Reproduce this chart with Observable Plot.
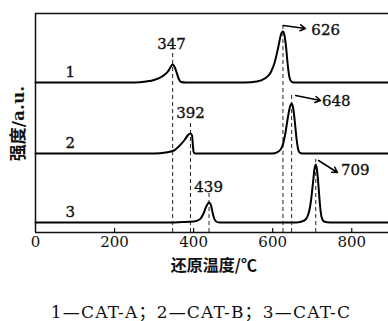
<!DOCTYPE html>
<html><head><meta charset="utf-8">
<script src="https://cdn.jsdelivr.net/npm/d3@7"></script>
<script src="https://cdn.jsdelivr.net/npm/@observablehq/plot@0.6"></script>
<style>
body{margin:0;background:#fff;}
#cap{font-family:"DejaVu Serif","Noto Sans CJK SC",serif;font-size:17px;letter-spacing:1.2px;text-align:center;width:388px;padding-left:14px;box-sizing:border-box;height:20px;line-height:20px;margin-top:12px;color:#111;white-space:nowrap;}
</style>
</head><body>
<div id="chart"></div>
<div id="cap">1—CAT-A；2—CAT-B；3—CAT-C</div>
<script>
// Curve samples: temperature (°C) and intensity (a.u.)
const temp1 = [0,250,280,300,320,335,342,347,352,357,362,368,380,530,560,580,595,605,615,621,626,630,634,638,642,646,652,665,900];
const int1  = [0,0,1,2.5,6,11,15.5,18,15.5,10,4,0.5,0,0,1,4,10,20,37,48,51,47,35,18,6,1.5,0,0,0];
const temp2 = [0,300,330,350,365,378,386,392,396,398,400,403,600,615,625,632,638,644,648,652,656,660,664,668,675,900];
const int2  = [0,0,1,3,8,14,18.5,20,18,9,1.5,0,0,2,8,20,35,47,50,45,32,16,5,1,0,0];
const temp3 = [0,340,370,400,415,425,432,439,444,448,452,457,465,660,680,690,697,702,706,709,712,716,720,724,730,745,900];
const int3  = [0,0,0.4,1,3,9,16,20,17,10,4,1,0,0,2,8,22,40,54,58,53,36,16,5,1,0,0];
const curveNames = ["1","2","3"];
const offsets = [150, 79, 10];
const peakTemps = [347, 626, 392, 648, 439, 709];
const peakLabels = ["347","626","392","648","439","709"];
const peakCurve = [0, 0, 1, 1, 2, 2];
const xTicks = [0, 200, 400, 600, 800];
const xLabel = "还原温度/℃";
const yLabel = "强度/a.u.";

const series = [[temp1,int1],[temp2,int2],[temp3,int3]];
const rows = [];
series.forEach(([t, v], k) => t.forEach((T, i) => rows.push({T, y: v[i] + offsets[k], c: curveNames[k]})));

function valAt(k, T){ const [t,v]=series[k]; const i=t.indexOf(T); return v[i]+offsets[k]; }
const peaks = peakTemps.map((T,i)=>({T, label: peakLabels[i], top: valAt(peakCurve[i], T)}));
const left = peaks.filter((d,i)=>i%2===0);   // labelled above the peak
const right = peaks.filter((d,i)=>i%2===1);  // labelled with an arrow

const serif = "DejaVu Serif, Noto Sans CJK SC, serif";
const txt = {fontFamily: serif, fontSize: 15, fill: "#111", stroke: "#111", strokeWidth: 0.35};

const plot = Plot.plot({
  width: 388, height: 290,
  marginLeft: 35, marginRight: 0, marginTop: 13, marginBottom: 58,
  x: {domain: [0, 893]},
  y: {domain: [0, 219], axis: null},
  style: {fontFamily: serif, color: "#111", background: "#fff"},
  marks: [
    Plot.ruleX(left.map((d,i)=>({T:d.T, y2:d.top+[11,11,9][i]})), {x:"T", y1:0, y2:"y2", stroke:"#222", strokeWidth:1, strokeDasharray:"4,3"}),
    Plot.ruleX(right.map((d,i)=>({T:d.T, y2:d.top+[8,10,5][i]})), {x:"T", y1:0, y2:"y2", stroke:"#222", strokeWidth:1, strokeDasharray:"4,3"}),
    Plot.line(rows, {x:"T", y:"y", z:"c", curve:"monotone-x", stroke:"#000", strokeWidth:2}),
    Plot.ruleY([0, 219], {stroke:"#111", strokeWidth:1.5}),
    Plot.ruleX([0], {stroke:"#111", strokeWidth:1.5}),
    Plot.ruleX(xTicks.slice(1), {x:d=>d, y1:0, y2:4, stroke:"#111", strokeWidth:1.2}),
    Plot.axisX({ticks: xTicks, tickSize: 0, tickPadding: 4, fontSize: 15, label: null, tickFormat: d=>String(d), stroke:"#111", strokeWidth:0.35, fill:"#111"}),
    Plot.text([xLabel], {frameAnchor:"bottom", x: 451, dy: 38, fontSize: 16, fontWeight:"bold", fontFamily:"Noto Sans CJK SC, DejaVu Serif", text:d=>d, fill:"#111"}),
    Plot.text([yLabel], {frameAnchor:"left", textAnchor:"middle", y: 109, dx: -17, rotate: -90, fontSize: 17, fontWeight:"bold", fontFamily:"DejaVu Serif, Noto Sans CJK SC", text:d=>d, fill:"#111"}),
    Plot.text(curveNames.map((n,k)=>({n, y: offsets[k]+10})), {x: 88, y:"y", text:"n", ...txt}),
    Plot.text(left.map((d,i)=>({T:d.T+[-3,0,-1][i], y:d.top+[20,20,15][i], s:d.label})), {x:"T", y:"y", text:"s", ...txt}),
    Plot.arrow(right.map((d,i)=>({x1:d.T+[1,10,7][i], y1:d.top+[6,8,4][i], x2:d.T+[57,73,55][i], y2:d.top+[3,3,-8][i]})), {x1:"x1", y1:"y1", x2:"x2", y2:"y2", stroke:"#000", strokeWidth:1.5, headLength:6}),
    Plot.text(right.map((d,i)=>({T:d.T+[108,113,100][i], y:d.top+[1,2,-6][i], s:d.label})), {x:"T", y:"y", text:"s", ...txt})
  ]
});
document.getElementById("chart").append(plot);
</script>
</body></html>
